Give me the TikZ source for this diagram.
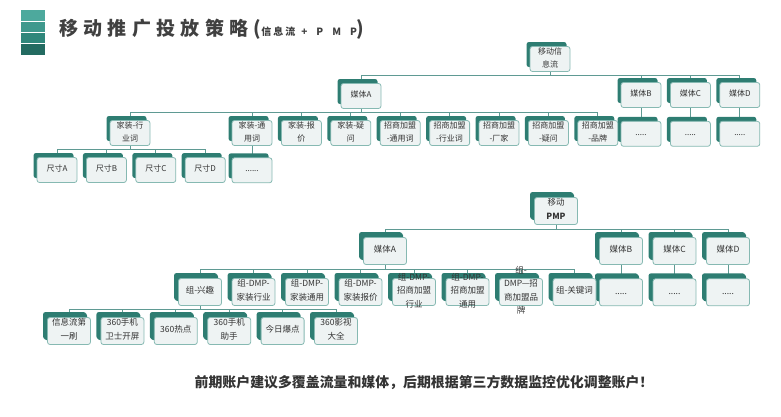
\documentclass[tikz,border=0pt]{standalone}
\usepackage{fontspec}
\usepackage{xcolor}
\usepackage{tikz}
\usetikzlibrary{positioning, shadows, backgrounds}

\newfontfamily\cjk{Noto Sans CJK SC}
\newfontfamily\titrefont[LetterSpace=28]{Noto Sans CJK SC}
\newfontfamily\petitfont[LetterSpace=20]{Noto Sans CJK SC}
\newfontfamily\lettresfont[LetterSpace=90]{Noto Sans CJK SC}
% texte de boîte, sur une ou plusieurs lignes, sans agrandir la boîte
\newcommand{\mt}[1]{\smash{\raisebox{-1pt}{\begin{tabular}{@{}c@{}}#1\end{tabular}}}}

\definecolor{ombre}{HTML}{2E7D72}
\definecolor{bord}{HTML}{86B9B2}
\definecolor{fond}{HTML}{EEF3F3}
\definecolor{trait}{HTML}{5F9A93}
\definecolor{titre}{HTML}{404040}
\definecolor{texte}{HTML}{333333}
\definecolor{bandeA}{HTML}{4DA99D}
\definecolor{bandeB}{HTML}{3F998D}
\definecolor{bandeC}{HTML}{2F877B}
\definecolor{bandeD}{HTML}{236B61}

\begin{document}
\begin{tikzpicture}[x=1pt, y=-1pt]
% Définition des styles
    \tikzstyle{mbox} = [rectangle, draw=bord, line width=0.8pt, fill=fond, rounded corners=2.5pt, minimum width=40pt, minimum height=25pt, inner sep=0pt, text=texte, font=\cjk\fontsize{8}{13}\selectfont, general shadow={fill=ombre, shadow xshift=-3.5pt, shadow yshift=4.5pt}]
    \tikzstyle{pbox} = [mbox, minimum width=43pt, minimum height=27pt, font=\cjk\fontsize{8.5}{13.5}\selectfont, general shadow={fill=ombre, shadow xshift=-4.5pt, shadow yshift=5.5pt}]
    \tikzstyle{line} = [draw=trait, line width=0.8pt]

    \useasboundingbox (0,0) rectangle (781,416);

    % Titre et pictogramme
    \fill [bandeA] (21,10) rectangle (45,21);
    \fill [bandeB] (21,21.8) rectangle (45,32.2);
    \fill [bandeC] (21,33) rectangle (45,43.2);
    \fill [bandeD] (21,44) rectangle (45,55);
    \node [anchor=west, text=titre, inner sep=0pt] (titre) at (59,29) {\titrefont\bfseries\fontsize{19}{19}\selectfont 移动推广投放策略(\petitfont\fontsize{10}{10}\selectfont 信息流\hspace{6pt}\lettresfont +PMP\titrefont\fontsize{19}{19}\selectfont)};

    % Arbre du haut: le flux d'information
    \node [mbox] (flux) at (550,59) {\mt{移动信\\息流}};
    \node [mbox] (fa) at (361,96) {\mt{媒体A}};
    \node [mbox] (fb) at (641,95) {\mt{媒体B}};
    \node [mbox, right=8.6pt of fb] (fc) {\mt{媒体C}};
    \node [mbox, right=8.6pt of fc] (fd) {\mt{媒体D}};
    \node [mbox, below=13pt of fb] (fbp) {\mt{.....}};
    \node [mbox, below=13pt of fc] (fcp) {\mt{.....}};
    \node [mbox, below=13pt of fd] (fdp) {\mt{.....}};

    % Mots-clés du média A
    \node [mbox] (hy) at (130,133) {\mt{家装-行\\业词}};
    \node [mbox] (ty) at (252,133) {\mt{家装-通\\用词}};
    \node [mbox, right=8.6pt of ty] (bj) {\mt{家装-报\\价}};
    \node [mbox, right=8.6pt of bj] (yw) {\mt{家装-疑\\问}};
    \node [mbox, right=8.6pt of yw] (zty) {\mt{招商加盟\\-通用词}};
    \node [mbox, right=8.6pt of zty] (zhy) {\mt{招商加盟\\-行业词}};
    \node [mbox, right=8.6pt of zhy] (zcj) {\mt{招商加盟\\-厂家}};
    \node [mbox, right=8.6pt of zcj] (zyw) {\mt{招商加盟\\-疑问}};
    \node [mbox, right=8.6pt of zyw] (zpp) {\mt{招商加盟\\-品牌}};

    % Tailles
    \node [mbox] (ca) at (57,170) {\mt{尺寸A}};
    \node [mbox, right=8.6pt of ca] (cb) {\mt{尺寸B}};
    \node [mbox, right=8.6pt of cb] (cc) {\mt{尺寸C}};
    \node [mbox, right=8.6pt of cc] (cd) {\mt{尺寸D}};
    \node [mbox, below=11.5pt of ty] (typ) {\mt{......}};

    % Arbre du bas: le PMP
    \node [pbox] (pmp) at (556,211) {\mt{移动\\\textbf{PMP}}};
    \node [pbox] (ma) at (385,251) {\mt{媒体A}};
    \node [pbox] (mb) at (621,251) {\mt{媒体B}};
    \node [pbox, right=9.7pt of mb] (mc) {\mt{媒体C}};
    \node [pbox, right=9.7pt of mc] (md) {\mt{媒体D}};
    \node [pbox, below=13.5pt of mb] (mbp) {\mt{.....}};
    \node [pbox, below=13.5pt of mc] (mcp) {\mt{.....}};
    \node [pbox, below=13.5pt of md] (mdp) {\mt{.....}};

    % Groupes du média A
    \node [pbox] (gxq) at (200,292) {\mt{组-兴趣}};
    \node [pbox, right=9.7pt of gxq] (ghy) {\mt{组-DMP-\\家装行业}};
    \node [pbox, right=9.7pt of ghy] (gty) {\mt{组-DMP-\\家装通用}};
    \node [pbox, right=9.7pt of gty] (gbj) {\mt{组-DMP-\\家装报价}};
    \node [pbox, right=9.7pt of gbj] (gzh) {\mt{组-DMP-\\招商加盟\\行业}};
    \node [pbox, right=9.7pt of gzh] (gzt) {\mt{组-DMP-\\招商加盟\\通用}};
    \node [pbox, right=9.7pt of gzt] (gzp) {\mt{组-\\DMP—招\\商加盟品\\牌}};
    \node [pbox, right=9.7pt of gzp] (ggj) {\mt{组-关键词}};

    % Emplacements
    \node [pbox] (s1) at (69,331) {\mt{信息流第\\一刷}};
    \node [pbox, right=9.6pt of s1] (s2) {\mt{360手机\\卫士开屏}};
    \node [pbox, right=9.6pt of s2] (s3) {\mt{360热点}};
    \node [pbox, right=9.6pt of s3] (s4) {\mt{360手机\\助手}};
    \node [pbox, right=9.6pt of s4] (s5) {\mt{今日爆点}};
    \node [pbox, right=9.6pt of s5] (s6) {\mt{360影视\\大全}};

    % Conclusion
    \node [text=texte] (note) at (424,383) {\cjk\bfseries\fontsize{13.9}{14}\selectfont 前期账户建议多覆盖流量和媒体，后期根据第三方数据监控优化调整账户！};

    % Connexions
    \begin{scope}[on background layer]
    \path [line] (flux.south) -- ++(0,3) -| (fa.north);
    \path [line] (flux.south) -- ++(0,3) -| (fb.north);
    \path [line] (flux.south) -- ++(0,3) -| (fc.north);
    \path [line] (flux.south) -- ++(0,3) -| (fd.north);
    \path [line] (fb) -- (fbp);
    \path [line] (fc) -- (fcp);
    \path [line] (fd) -- (fdp);
    \path [line] (fa.south) -- ++(0,3.5) -| (hy.north);
    \path [line] (fa.south) -- ++(0,3.5) -| (ty.north);
    \path [line] (fa.south) -- ++(0,3.5) -| (bj.north);
    \path [line] (fa.south) -- ++(0,3.5) -| (yw.north);
    \path [line] (fa.south) -- ++(0,3.5) -| (zty.north);
    \path [line] (fa.south) -- ++(0,3.5) -| (zhy.north);
    \path [line] (fa.south) -- ++(0,3.5) -| (zcj.north);
    \path [line] (fa.south) -- ++(0,3.5) -| (zyw.north);
    \path [line] (fa.south) -- ++(0,3.5) -| (zpp.north);
    \path [line] (hy.south) -- ++(0,3.5) -| (ca.north);
    \path [line] (hy.south) -- ++(0,3.5) -| (cb.north);
    \path [line] (hy.south) -- ++(0,3.5) -| (cc.north);
    \path [line] (hy.south) -- ++(0,3.5) -| (cd.north);
    \path [line] (ty) -- (typ);

    \path [line] (pmp.south) -- ++(0,4.5) -| (ma.north);
    \path [line] (pmp.south) -- ++(0,4.5) -| (mb.north);
    \path [line] (pmp.south) -- ++(0,4.5) -| (mc.north);
    \path [line] (pmp.south) -- ++(0,4.5) -| (md.north);
    \path [line] (mb) -- (mbp);
    \path [line] (mc) -- (mcp);
    \path [line] (md) -- (mdp);
    \path [line] (ma.south) -- ++(0,4.5) -| (gxq.north);
    \path [line] (ma.south) -- ++(0,4.5) -| (ghy.north);
    \path [line] (ma.south) -- ++(0,4.5) -| (gty.north);
    \path [line] (ma.south) -- ++(0,4.5) -| (gbj.north);
    \path [line] (ma.south) -- ++(0,4.5) -| (gzh.north);
    \path [line] (ma.south) -- ++(0,4.5) -| (gzt.north);
    \path [line] (ma.south) -- ++(0,4.5) -| (gzp.north);
    \path [line] (ma.south) -- ++(0,4.5) -| (ggj.north);
    \path [line] (gxq.south) -- ++(0,3) -| (s1.north);
    \path [line] (gxq.south) -- ++(0,3) -| (s2.north);
    \path [line] (gxq.south) -- ++(0,3) -| (s3.north);
    \path [line] (gxq.south) -- ++(0,3) -| (s4.north);
    \path [line] (gxq.south) -- ++(0,3) -| (s5.north);
    \path [line] (gxq.south) -- ++(0,3) -| (s6.north);
    \end{scope}
\end{tikzpicture}
\end{document}
